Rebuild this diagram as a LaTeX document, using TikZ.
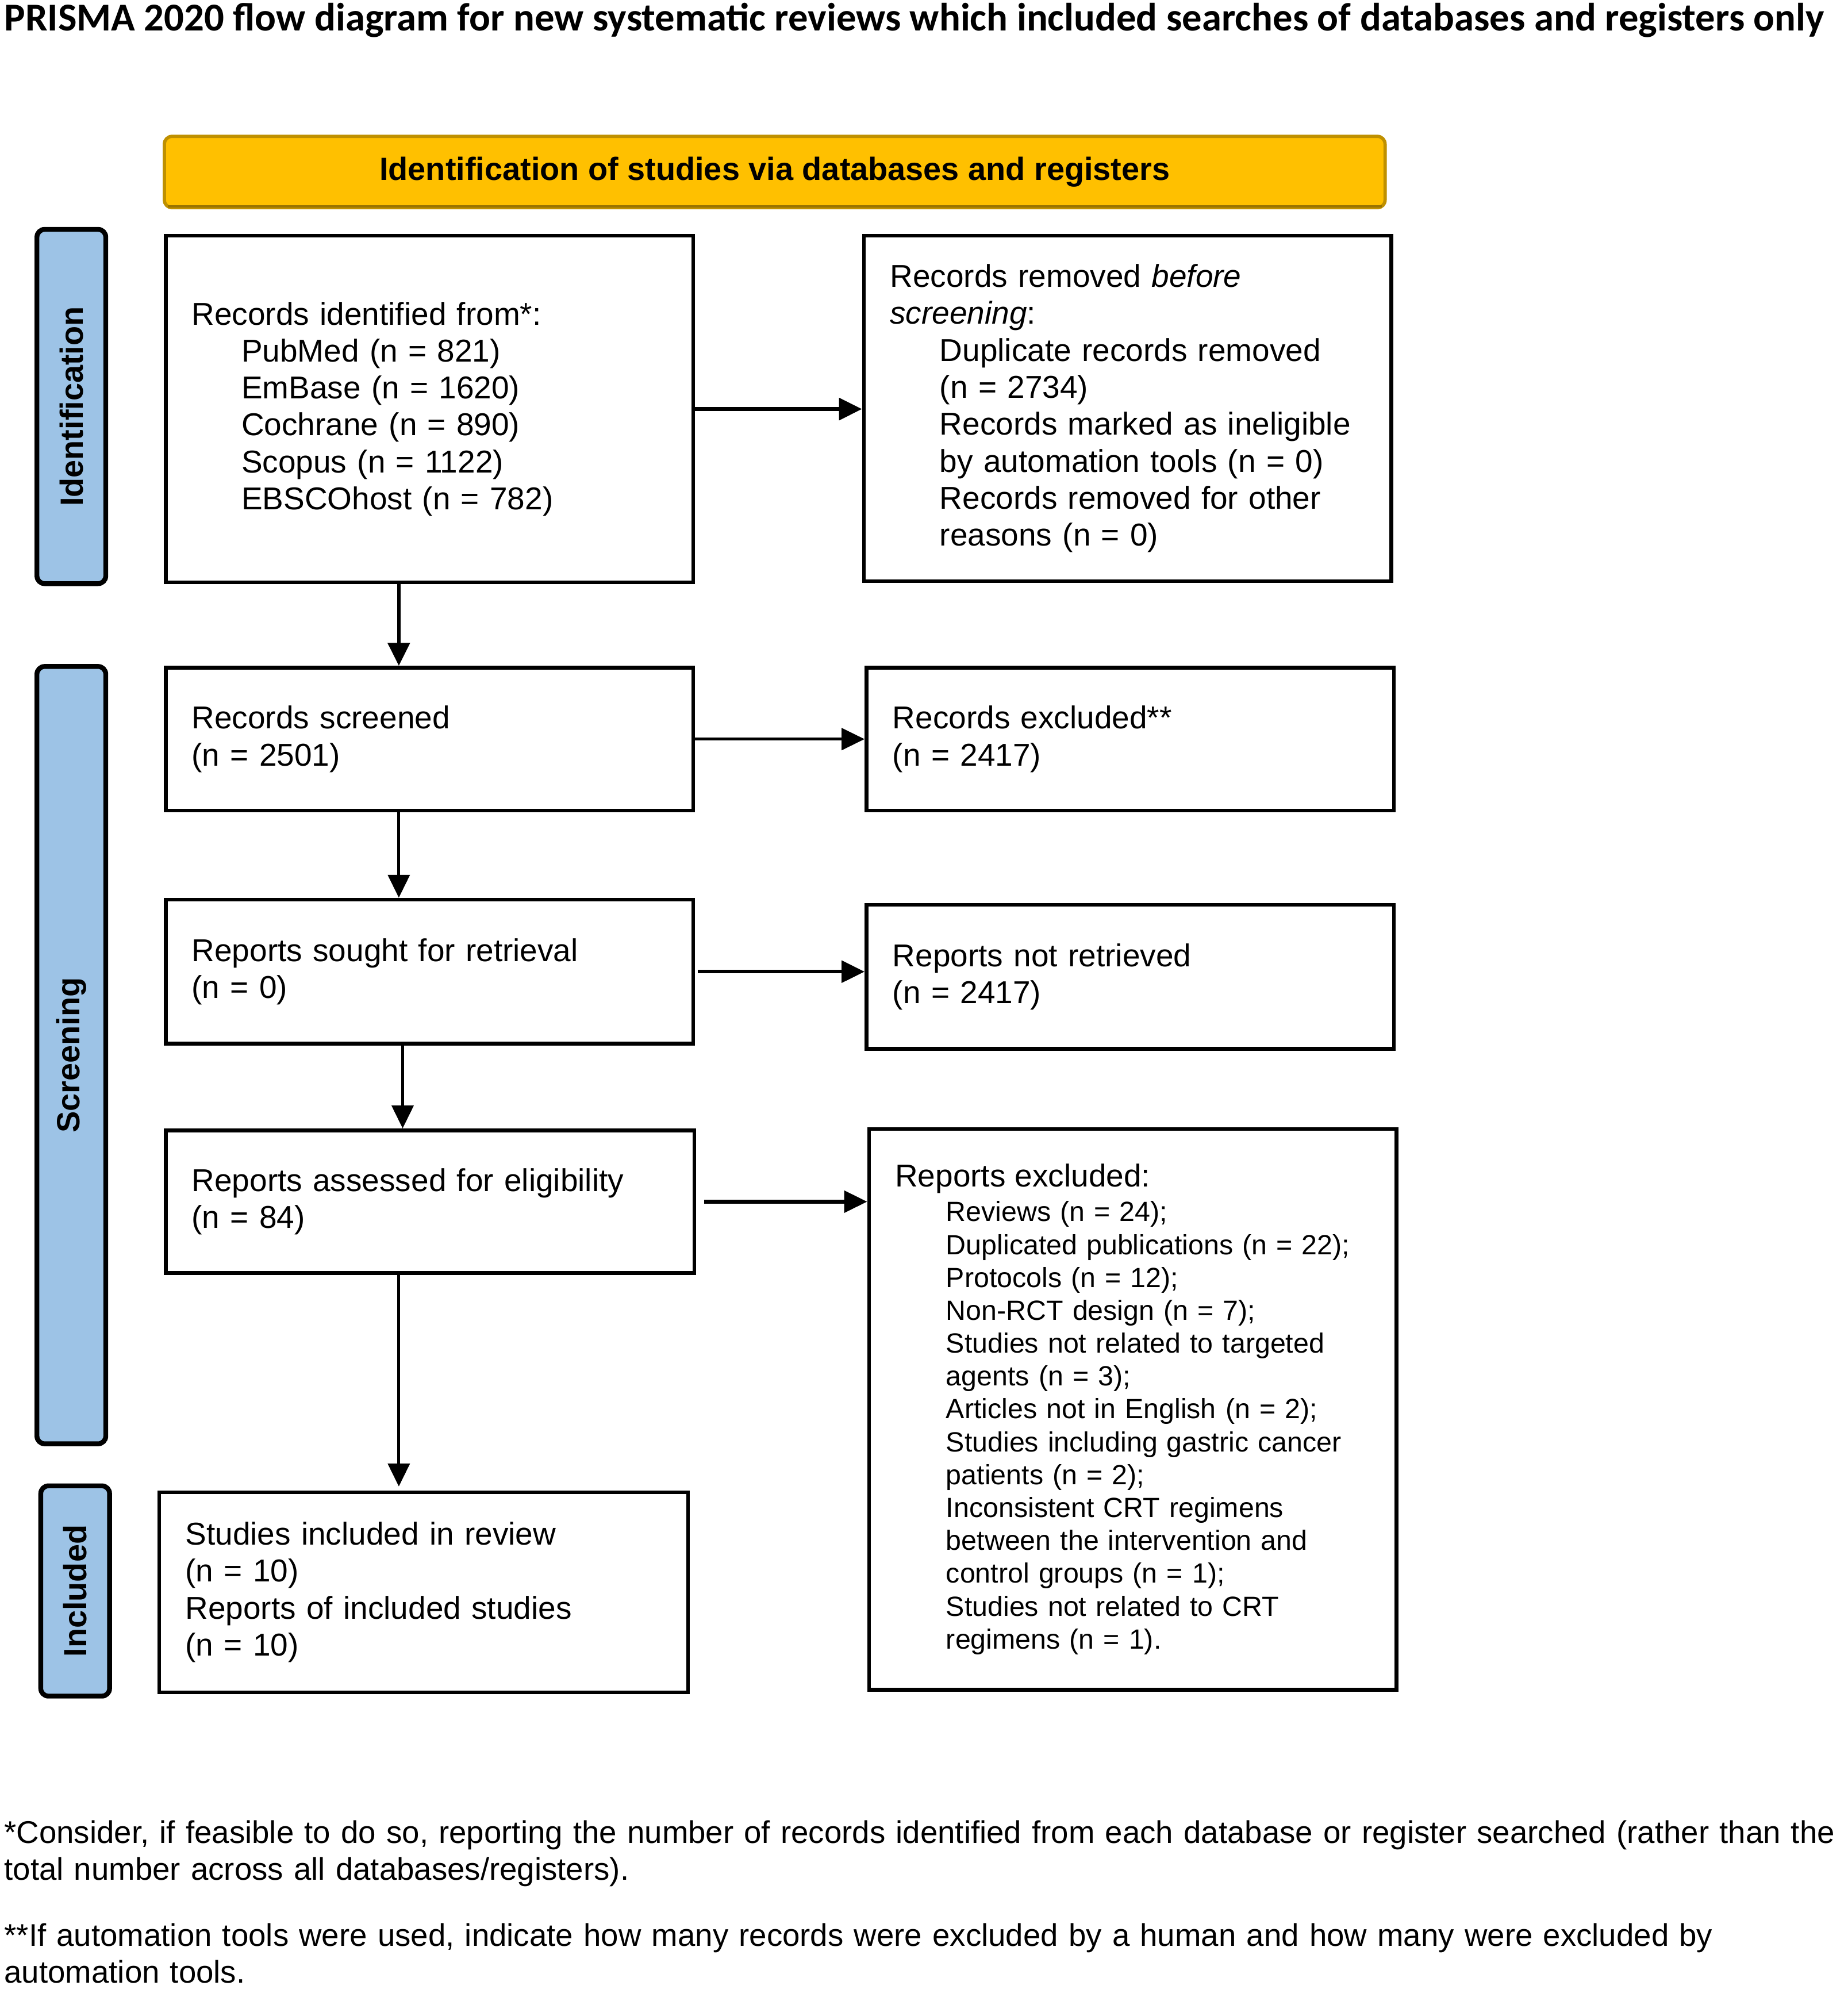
\documentclass[tikz,border=0pt]{standalone}
\usepackage{fontspec}
\setmainfont{Liberation Sans}
\newfontfamily\titlefont{Carlito}
\usetikzlibrary{arrows.meta}
\definecolor{banneryellow}{HTML}{FFC000}
\definecolor{bannerborder}{HTML}{BF9000}
\definecolor{sideblue}{HTML}{9DC3E6}
\newcommand\myind{\hspace*{19.5pt}}
\newcommand\myindb{\hspace*{20pt}}
\begin{document}
\begin{tikzpicture}[x=0.5pt,y=-0.5pt,
  box/.style={draw=black, line width=1.5pt, fill=white, anchor=north west,
    inner xsep=10.25pt, inner ysep=0pt, align=left, text width=186.5pt,
    font=\fontsize{12.4}{14.5}\selectfont},
  side/.style={draw=black, line width=1.9pt, fill=sideblue, rounded corners=3pt,
    rotate=90, anchor=center, minimum height=27pt, inner sep=0pt,
    font=\fontsize{12.6}{14.5}\selectfont\bfseries},
  banner/.style={draw=bannerborder, line width=1.3pt, fill=banneryellow, rounded corners=3pt,
    anchor=center, minimum width=479pt, minimum height=28pt, inner sep=0pt,
    font=\fontsize{12.6}{14.5}\selectfont\bfseries},
  arr/.style={-{Triangle[length=9pt,width=8.5pt]}, line width=1.15pt, draw=black},
  foot/.style={anchor=north west, inner sep=0pt, align=left, text width=740pt,
    font=\fontsize{12.32}{14.5}\selectfont}
]
\useasboundingbox (0,0) rectangle (1450,1564);

% title
\node[anchor=base west, inner sep=0pt, font=\titlefont\fontsize{15.5}{17}\selectfont\bfseries]
  (title) at (3,24) {PRISMA 2020 flow diagram for new systematic reviews which included searches of databases and registers only};

% banner
\node[banner] (ban) at (608,135) {Identification of studies via databases and registers};
\draw[bannerborder!80!black, line width=1pt] ([xshift=2pt,yshift=1.2pt]ban.south west) -- ([xshift=-2pt,yshift=1.2pt]ban.south east);

% side labels
\node[side, minimum width=139pt] (sidId) at (56,319) {Identification};
\node[side, minimum width=305pt] (sidSc) at (56,828) {Screening};
\node[side, minimum width=82.5pt] (sidIn) at (59,1248.5) {Included};

% boxes
\node[box, minimum height=136pt] (rid) at (128.5,183.5) {Records identified from*:\\
\myind PubMed (n = 821)\\
\myind EmBase (n = 1620)\\
\myind Cochrane (n = 890)\\
\myind Scopus (n = 1122)\\
\myind EBSCOhost (n = 782)};

\node[box, minimum height=135.5pt] (rrm) at (676.5,183.5) {Records removed \textit{before}\\
\textit{screening}:\\
\myind Duplicate records removed\\
\myind (n = 2734)\\
\myind Records marked as ineligible\\
\myind by automation tools (n = 0)\\
\myind Records removed for other\\
\myind reasons (n = 0)};

\node[box, minimum height=56pt] (scr) at (128.5,522.5) {Records screened\\(n = 2501)};
\node[box, minimum height=56pt] (exc) at (678.5,522.5) {Records excluded**\\(n = 2417)};
\node[box, minimum height=56.5pt] (sou) at (128.5,704.5) {Reports sought for retrieval\\(n = 0)};
\node[box, minimum height=56.5pt] (nre) at (678.5,708.5) {Reports not retrieved\\(n = 2417)};
\node[box, minimum height=56pt, text width=187pt] (ass) at (128.5,885.5) {Reports assessed for eligibility\\(n = 84)};

\node[box, minimum height=220pt, font=\fontsize{10.9}{12.9}\selectfont] (rex) at (680.5,884.5) {{\fontsize{12.4}{12.9}\selectfont Reports excluded:}\\[0.6pt]
\myindb Reviews (n = 24);\\
\myindb Duplicated publications (n = 22);\\
\myindb Protocols (n = 12);\\
\myindb Non-RCT design (n = 7);\\
\myindb Studies not related to targeted\\
\myindb agents (n = 3);\\
\myindb Articles not in English (n = 2);\\
\myindb Studies including gastric cancer\\
\myindb patients (n = 2);\\
\myindb Inconsistent CRT regimens\\
\myindb between the intervention and\\
\myindb control groups (n = 1);\\
\myindb Studies not related to CRT\\
\myindb regimens (n = 1).};

\node[box, minimum height=78.5pt, text width=187pt] (inc) at (123.5,1169.5) {Studies included in review\\
(n = 10)\\
Reports of included studies\\
(n = 10)};

% connectors
\coordinate (colA) at (313,0);
\coordinate (colB) at (316,0);
\draw[arr, line width=1.5pt] (rid.south -| colA) -- (scr.north -| colA);
\draw[arr, line width=1.5pt] (rid.east) -- (rid.east -| rrm.west);
\draw[arr] (scr.east) -- (scr.east -| exc.west);
\draw[arr] (scr.south -| colA) -- (sou.north -| colA);
\draw[arr, line width=1.4pt] ([xshift=1pt]sou.east) -- (sou.east -| nre.west);
\draw[arr] (sou.south -| colB) -- (ass.north -| colB);
\draw[arr, line width=1.4pt] ([xshift=3pt]ass.east) -- (ass.east -| rex.west);
\draw[arr, shorten >=1.5pt] (ass.south -| colA) -- (inc.north -| colA);

% footnotes
\node[foot] (fn1) at (3,1428) {*Consider, if feasible to do so, reporting the number of records identified from each database or register searched (rather than the\\
total number across all databases/registers).};
\node[foot] (fn2) at (3,1509) {**If automation tools were used, indicate how many records were excluded by a human and how many were excluded by\\
automation tools.};
\end{tikzpicture}
\end{document}
